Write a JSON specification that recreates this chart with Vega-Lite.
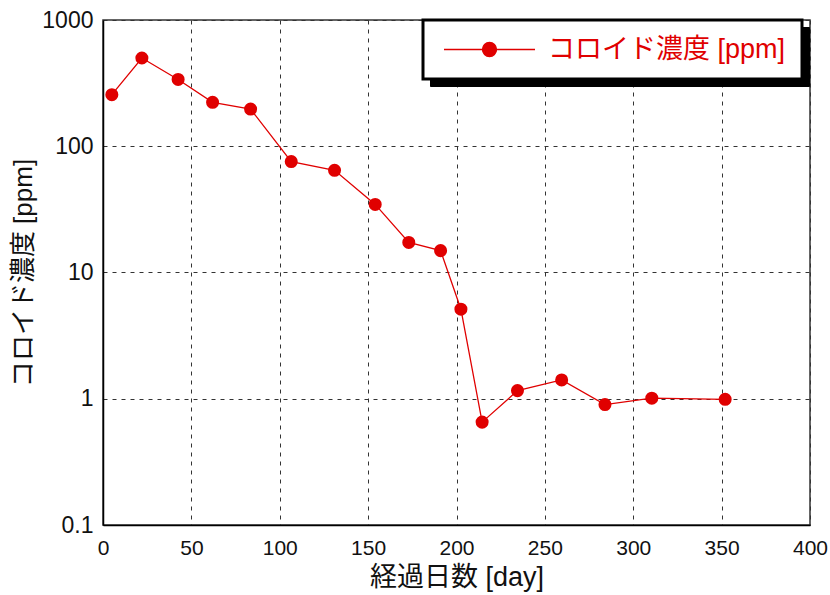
{
  "$schema": "https://vega.github.io/schema/vega-lite/v6.json",
  "width": 707,
  "height": 505,
  "autosize": "none",
  "padding": {"left": 103, "top": 20, "right": 20, "bottom": 70},
  "background": "white",
  "layer": [
    {
      "data": {
        "values": [
          {"day": 5, "ppm": 256, "series": "コロイド濃度 [ppm]"},
          {"day": 22, "ppm": 500, "series": "コロイド濃度 [ppm]"},
          {"day": 42.5, "ppm": 338, "series": "コロイド濃度 [ppm]"},
          {"day": 62, "ppm": 223, "series": "コロイド濃度 [ppm]"},
          {"day": 83.5, "ppm": 197, "series": "コロイド濃度 [ppm]"},
          {"day": 106.5, "ppm": 75.6, "series": "コロイド濃度 [ppm]"},
          {"day": 131, "ppm": 64.5, "series": "コロイド濃度 [ppm]"},
          {"day": 154, "ppm": 34.6, "series": "コロイド濃度 [ppm]"},
          {"day": 173, "ppm": 17.3, "series": "コロイド濃度 [ppm]"},
          {"day": 191, "ppm": 14.9, "series": "コロイド濃度 [ppm]"},
          {"day": 202.5, "ppm": 5.12, "series": "コロイド濃度 [ppm]"},
          {"day": 214.5, "ppm": 0.653, "series": "コロイド濃度 [ppm]"},
          {"day": 234.5, "ppm": 1.16, "series": "コロイド濃度 [ppm]"},
          {"day": 259.5, "ppm": 1.41, "series": "コロイド濃度 [ppm]"},
          {"day": 284, "ppm": 0.90, "series": "コロイド濃度 [ppm]"},
          {"day": 310.5, "ppm": 1.01, "series": "コロイド濃度 [ppm]"},
          {"day": 352, "ppm": 0.99, "series": "コロイド濃度 [ppm]"}
        ]
      },
      "mark": {
        "type": "line",
        "strokeWidth": 1.3,
        "point": {"filled": true, "size": 170, "opacity": 1}
      },
      "encoding": {
        "x": {
          "field": "day",
          "type": "quantitative",
          "scale": {"domain": [0, 400], "nice": false, "zero": false},
          "axis": {
            "title": "経過日数 [day]",
            "values": [0, 50, 100, 150, 200, 250, 300, 350, 400],
            "grid": true,
            "gridDash": [4, 5],
            "gridColor": "#333",
            "gridOpacity": 1,
            "gridWidth": 1,
            "ticks": false,
            "domainColor": "#000",
            "domainWidth": 1.5,
            "labelFont": "Liberation Sans",
            "labelFontSize": 21,
            "labelColor": "#111",
            "labelPadding": 12,
            "labelFlush": false,
            "titleFont": "Liberation Sans, Noto Sans CJK JP",
            "titleFontSize": 27,
            "titleFontWeight": "normal",
            "titleColor": "#111",
            "titlePadding": 6
          }
        },
        "y": {
          "field": "ppm",
          "type": "quantitative",
          "scale": {"type": "log", "domain": [0.1, 1000], "nice": false},
          "axis": {
            "title": "コロイド濃度 [ppm]",
            "values": [0.1, 1, 10, 100, 1000],
            "format": "~g",
            "grid": true,
            "gridDash": [4, 5],
            "gridColor": "#333",
            "gridOpacity": 1,
            "gridWidth": 1,
            "ticks": false,
            "domainColor": "#000",
            "domainWidth": 1.5,
            "labelFont": "Liberation Sans",
            "labelFontSize": 23,
            "labelColor": "#111",
            "labelPadding": 10,
            "labelFlush": false,
            "titleFont": "Liberation Sans, Noto Sans CJK JP",
            "titleFontSize": 26,
            "titleFontWeight": "normal",
            "titleColor": "#111",
            "titlePadding": 5
          }
        },
        "color": {
          "field": "series",
          "type": "nominal",
          "scale": {"range": ["#e00000"]},
          "legend": {
            "title": null,
            "orient": "none",
            "legendX": 320,
            "legendY": 0,
            "zindex": 2,
            "fillColor": "white",
            "strokeColor": "black",
            "padding": 16,
            "symbolType": "M-6.5,0H6.5M1,0A1,1,0,1,1,-1,0A1,1,0,1,1,1,0",
            "symbolSize": 196,
            "symbolStrokeWidth": 1.3,
            "symbolFillColor": "#e00000",
            "symbolStrokeColor": "#e00000",
            "symbolOffset": 37,
            "labelOffset": 45,
            "labelFont": "Liberation Sans, Noto Sans CJK JP",
            "labelFontSize": 27,
            "labelColor": "#e00000",
            "labelLimit": 400,
            "encode": {
              "legend": {"update": {"strokeWidth": {"value": 3}}}
            }
          }
        }
      }
    },
    {
      "data": {"values": [{"key": "コロイド濃度 [ppm]"}]},
      "mark": {"type": "point", "opacity": 0},
      "encoding": {
        "shape": {
          "field": "key",
          "type": "nominal",
          "legend": {
            "title": null,
            "orient": "none",
            "legendX": 327,
            "legendY": 7,
            "zindex": 1,
            "fillColor": "black",
            "strokeColor": "black",
            "padding": 16,
            "symbolType": "M-6.5,0H6.5M1,0A1,1,0,1,1,-1,0A1,1,0,1,1,1,0",
            "symbolSize": 196,
            "symbolOpacity": 1,
            "symbolStrokeWidth": 1.3,
            "symbolFillColor": "black",
            "symbolStrokeColor": "black",
            "symbolOffset": 37,
            "labelOffset": 45,
            "labelFont": "Liberation Sans, Noto Sans CJK JP",
            "labelFontSize": 27,
            "labelColor": "black",
            "labelOpacity": 0,
            "labelLimit": 400,
            "encode": {
              "legend": {"update": {"strokeWidth": {"value": 3}}}
            }
          }
        }
      }
    }
  ],
  "config": {
    "view": {"stroke": "#333", "strokeWidth": 1.5}
  }
}
